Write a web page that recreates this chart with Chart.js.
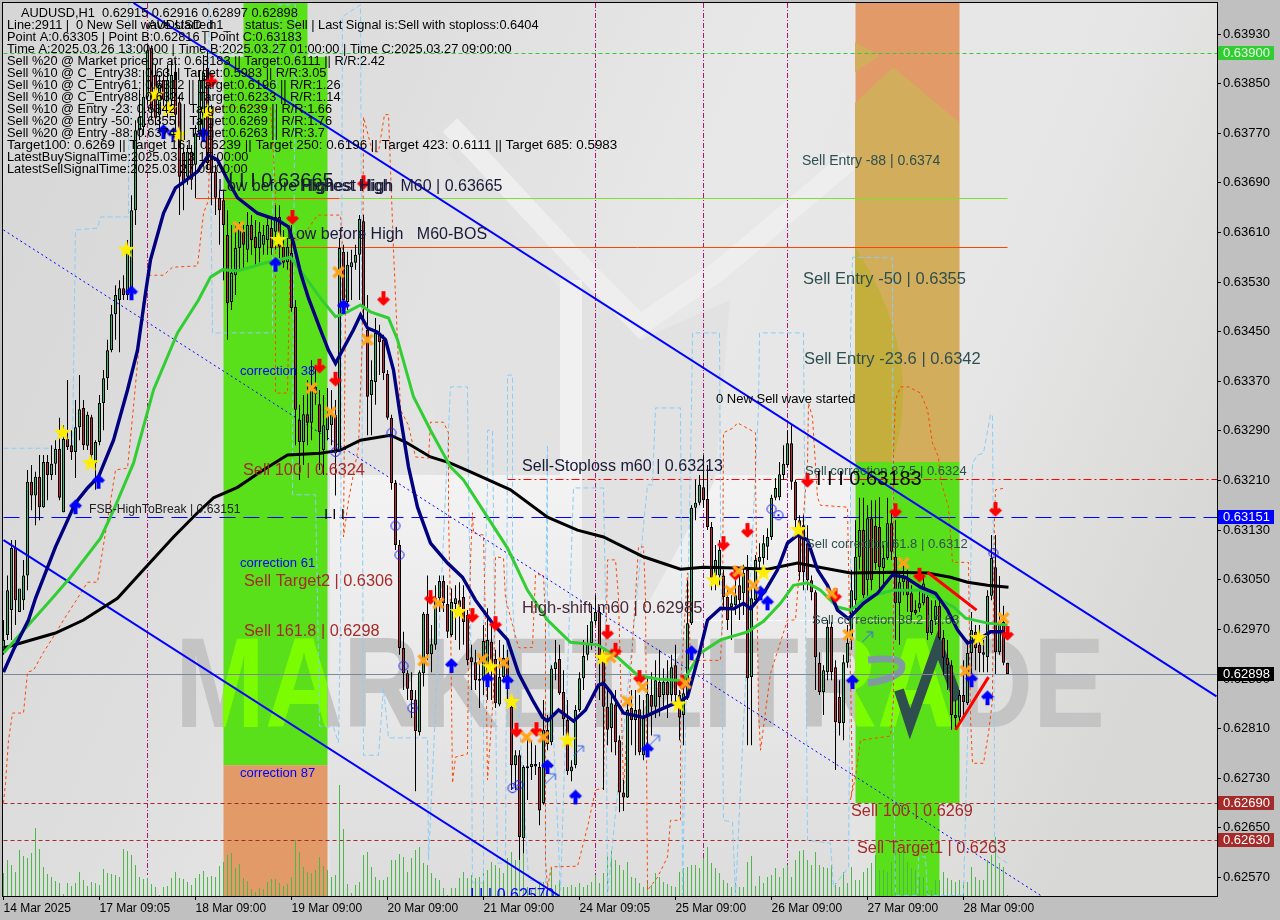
<!DOCTYPE html>
<html>
<head>
<meta charset="utf-8">
<title>AUDUSD,H1</title>
<script src="https://cdn.jsdelivr.net/npm/chart.js@4"></script>
<style>
  html, body { margin: 0; padding: 0; background: #c0c0c0; }
  canvas { display: block; }
</style>
</head>
<body>
<canvas id="priceChart" width="1280" height="920"></canvas>
<script>
// all prices below are in 1/100000 of a point, one entry per H1 bar
const opens = [
62937,62961,63001,63101,62998,63017,63057,63208,63186,63216,
63167,63240,63219,63237,63261,63159,63277,63267,63256,63296,
63327,63266,63312,63238,63272,63335,63375,63420,63478,63501,
63520,63509,63512,63646,63775,63780,63829,63908,63864,63800,
63856,63808,63824,63869,63820,63738,63700,63740,63719,63770,
63775,63875,63803,63708,63666,63662,63606,63498,63541,63585,
63611,63582,63622,63603,63585,63590,63598,63617,63611,63635,
63587,63562,63577,63490,63308,63272,63317,63303,63361,63333,
63259,63291,63299,63316,63259,63579,63498,63554,63561,63574,
63628,63453,63348,63369,63448,63437,63382,63311,63206,63106,
62940,62899,62872,62857,62804,62899,62995,62930,62945,63020,
63048,63011,62961,63011,63017,63022,62993,62925,62917,62887,
62888,62891,62950,62922,62849,62893,62924,62845,62751,62767,
62633,62746,62748,62753,62748,62690,62808,62788,62906,62922,
62869,62824,62741,62751,62840,62891,62929,62948,62983,62998,
62925,62845,62811,62849,62791,62707,62699,62843,62824,62841,
62767,62832,62864,62845,62885,62864,62885,62864,62912,62864,
62832,62861,62980,63166,63174,63199,63180,63135,63057,63057,
63057,63022,63006,63009,63041,63028,63066,62893,63017,63079,
63085,63103,63119,63182,63183,63219,63235,63270,63208,63146,
63138,63109,63049,63030,62916,62869,62901,62974,62909,62861,
62819,62916,62953,63017,63087,63130,63049,63149,63137,63135,
63069,63085,63141,63087,63012,63046,63049,63028,63001,63004,
63012,63022,62964,62985,63008,62956,62924,62912,62832,62828,
62864,62851,62932,62966,62945,62933,62925,63024,63070,62933,
62982,62916];
const highs = [
62985,63057,63114,63114,62977,63082,63227,63235,63224,63251,
63251,63251,63267,63275,63311,63299,63372,63291,63340,63380,
63340,63321,63316,63275,63348,63388,63437,63493,63525,63533,
63541,63598,63670,63791,63840,63872,63912,63912,63880,63864,
63872,63880,63888,63888,63832,63746,63751,63751,63783,63872,
63896,63904,63816,63719,63679,63679,63646,63622,63622,63627,
63622,63643,63638,63630,63627,63622,63633,63630,63654,63654,
63614,63601,63622,63501,63332,63348,63372,63404,63396,63356,
63348,63359,63356,63340,63601,63590,63579,63582,63590,63638,
63638,63509,63404,63472,63461,63445,63388,63316,63211,63114,
62966,62904,62901,62872,62904,62998,63057,62977,63041,63057,
63057,63041,63036,63041,63046,63041,63001,62945,62937,62929,
62977,63004,62977,62937,62953,62945,62937,62856,62775,62775,
62751,62799,62791,62783,62756,62856,62832,62912,62953,62945,
62904,62856,62759,62848,62901,62953,62977,63009,63025,63006,
62937,62872,62867,62872,62799,62727,62856,62872,62872,62864,
62856,62891,62901,62920,62937,62907,62920,62929,62945,62872,
62888,63049,63170,63211,63219,63251,63235,63143,63106,63114,
63066,63033,63025,63049,63057,63074,63090,63036,63090,63109,
63122,63133,63187,63214,63240,63267,63291,63299,63211,63154,
63154,63138,63057,63033,62933,62912,62985,62982,62920,62888,
62929,62977,63066,63146,63182,63182,63170,63178,63178,63183,
63106,63182,63162,63146,63062,63082,63066,63041,63017,63033,
63057,63033,63017,63017,63017,62969,62953,62920,62856,62872,
62920,62953,62998,62977,62977,62953,63033,63122,63122,63056,
63008,62916];
const lows = [
62929,62953,62953,62977,62977,63001,63033,63162,63138,63146,
63166,63178,63211,63219,63178,63159,63259,63243,63214,63275,
63259,63259,63235,63195,63267,63291,63356,63417,63437,63417,
63501,63501,63506,63622,63759,63767,63816,63791,63783,63775,
63808,63795,63800,63775,63638,63646,63687,63679,63703,63759,
63759,63711,63654,63638,63590,63533,63437,63485,63509,63550,
63553,63562,63574,63558,63562,63574,63574,63574,63582,63569,
63553,63550,63482,63267,63211,63235,63267,63275,63332,63227,
63219,63275,63267,63186,63256,63493,63485,63501,63550,63501,
63469,63283,63283,63332,63380,63372,63308,63195,63098,62929,
62872,62856,62827,62709,62799,62878,62920,62901,62937,62998,
62998,62956,62958,62953,62937,62945,62912,62872,62872,62843,
62864,62856,62856,62843,62846,62888,62856,62711,62711,62598,
62609,62695,62727,62735,62654,62687,62775,62783,62888,62864,
62799,62735,62725,62746,62837,62872,62920,62937,62977,62856,
62711,62783,62772,62767,62675,62677,62698,62783,62767,62767,
62759,62775,62799,62827,62830,62840,62827,62848,62853,62791,
62783,62856,62977,63146,63170,63166,63130,63033,63033,63041,
63001,62969,62953,62993,62985,62993,62783,62783,63009,63066,
63074,63082,63114,63178,63178,63211,63232,63195,63133,63049,
63033,63033,63017,62872,62864,62832,62888,62888,62743,62799,
62791,62908,62937,63001,63066,63020,63017,63033,63066,63033,
63041,63082,63082,62953,62945,63025,62998,62985,62993,62998,
63009,62953,62961,62977,62953,62896,62872,62808,62809,62816,
62827,62848,62888,62904,62901,62901,62901,63017,62898,62929,
62912,62898];
const closes = [
62953,63033,63101,63017,63036,63057,63208,63186,63216,63167,
63240,63219,63237,63261,63182,63277,63264,63256,63296,63325,
63267,63316,63251,63272,63335,63375,63420,63478,63509,63520,
63509,63577,63646,63775,63796,63829,63904,63808,63795,63848,
63824,63856,63864,63800,63700,63690,63740,63695,63770,63856,
63867,63722,63706,63666,63646,63622,63496,63545,63585,63619,
63590,63622,63598,63585,63611,63606,63622,63585,63635,63587,
63561,63587,63488,63324,63272,63317,63303,63361,63349,63288,
63299,63316,63316,63254,63585,63501,63558,63562,63574,63632,
63488,63345,63372,63448,63433,63383,63311,63206,63106,62940,
62899,62874,62856,62806,62901,62995,62930,62946,63020,63048,
63012,62966,63014,63020,63006,62982,62920,62917,62888,62890,
62951,62953,62904,62851,62893,62924,62888,62751,62767,62635,
62748,62749,62753,62749,62678,62808,62785,62907,62917,62867,
62825,62741,62749,62840,62891,62927,62948,62983,62998,62920,
62845,62808,62851,62788,62707,62699,62840,62824,62840,62772,
62828,62866,62845,62888,62861,62885,62864,62909,62864,62828,
62867,62980,63166,63174,63203,63178,63135,63053,63082,63098,
63022,62985,63012,63025,63017,63061,62891,63020,63082,63087,
63109,63119,63182,63198,63220,63237,63270,63208,63146,63062,
63062,63049,63030,62925,62869,62904,62974,62901,62820,62819,
62917,62948,63033,63087,63130,63025,63149,63049,63077,63070,
63085,63141,63095,63012,63046,63053,63025,62998,62996,63012,
63044,62964,62985,63008,62956,62924,62912,62832,62827,62864,
62853,62932,62969,62940,62932,62929,63024,63085,62933,62982,
62916,62898];
const volumes = [
23,36,31,24,46,40,38,43,68,47,29,22,19,15,13,2,13,10,13,24,
16,10,14,13,11,27,23,22,21,19,47,45,41,31,19,17,18,12,9,1,
9,10,18,24,18,17,14,11,18,22,25,19,20,19,30,34,41,43,28,32,
18,15,7,4,8,7,14,17,17,13,10,12,19,56,44,29,24,23,26,39,
30,26,19,21,111,67,12,3,11,14,41,44,29,19,16,16,19,36,36,42,
39,24,38,46,49,33,31,23,18,16,8,1,8,8,18,24,18,21,18,19,
23,26,34,31,28,23,38,44,36,43,43,9,6,9,13,14,13,28,11,16,
9,9,11,9,13,9,11,14,21,13,23,40,45,36,31,26,34,19,18,13,
9,16,11,23,19,14,12,10,9,24,28,29,31,31,28,38,49,33,28,23,
16,13,9,13,9,9,34,40,10,20,13,19,21,28,19,28,31,19,36,45,
46,36,31,44,31,29,28,31,13,9,24,13,29,16,16,24,28,33,41,26,
26,24,34,46,43,46,34,28,26,19,19,9,6,16,16,24,18,16,14,16,
14,14,29,19,16,16,36,41,59,33,29,1];

const xTickBars = [0,24,48,72,96,120,144,168,192,216,240];
const xTickLabels = ['14 Mar 2025','17 Mar 09:05','18 Mar 09:00','19 Mar 09:00','20 Mar 09:00','21 Mar 09:00','24 Mar 09:05','25 Mar 09:00','26 Mar 09:00','27 Mar 09:00','28 Mar 09:00'];
const yTicks = [0.6393,0.6385,0.6377,0.6369,0.6361,0.6353,0.6345,0.6337,0.6329,0.6321,0.6313,0.6305,0.6297,0.6289,0.6281,0.6273,0.6265,0.6257];

// indicators as [bar, price]
const fastMa = [[0,62901],[2.5,62937],[6.25,62985],[8,63020],[13,63103],[18,63174],[21,63198],[23.75,63216],[27.5,63275],[31,63356],[33.5,63420],[35.5,63512],[36.75,63566],[40,63641],[43,63682],[44.75,63690],[48.5,63708],[51.25,63735],[53.5,63727],[56,63695],[58.5,63666],[63.5,63641],[68.5,63630],[71.25,63619],[72.5,63593],[74.25,63545],[76.25,63504],[79.25,63453],[81.25,63420],[83,63399],[84.75,63420],[87.5,63453],[89.25,63477],[91,63456],[93.5,63449],[95.5,63437],[97.5,63388],[99.25,63312],[101.25,63232],[103.5,63167],[106.75,63109],[111,63077],[114.75,63054],[118,63017],[122.25,62980],[126,62953],[128.75,62899],[132.25,62856],[134.75,62828],[136,62822],[138.75,62840],[142.5,62822],[145.5,62840],[148.75,62880],[150,62883],[151.75,62869],[155,62835],[160,62828],[165,62843],[168.75,62853],[171,62861],[173.5,62920],[176,62985],[179.25,63004],[182.5,63003],[185,63012],[186.75,63003],[190.5,63033],[193.5,63066],[196,63109],[198.5,63122],[201,63114],[203.5,63066],[206,63041],[208.5,63001],[211.25,62987],[215,63012],[218.5,63028],[222.25,63058],[225.5,63054],[229.25,63038],[233,63028],[236,63001],[238.5,62969],[241,62948],[243.75,62953],[246.75,62966],[249.75,62966],[251.25,62956]];
const midMa = [[0,62932],[11.75,63017],[16.75,63054],[24.25,63117],[27.5,63162],[32.5,63238],[37.5,63356],[43.5,63448],[48.75,63501],[51.75,63538],[54.75,63550],[58.5,63548],[66,63562],[71.75,63570],[76,63533],[79.25,63504],[83,63474],[86,63482],[89.25,63493],[91.75,63482],[96.25,63472],[98.5,63437],[102.5,63345],[106.75,63291],[111.75,63232],[115,63211],[121,63151],[126,63101],[131,63033],[136,62985],[141.75,62949],[148.5,62945],[153.5,62925],[158.5,62896],[163.5,62890],[170,62887],[174.25,62932],[179.25,62953],[186,62966],[190,62983],[194.25,63012],[197.5,63041],[201,63045],[204.25,63033],[208.5,63006],[211.75,63001],[216,63022],[222.25,63033],[229.25,63033],[233.5,63020],[237.5,63006],[240.5,62988],[246,62980],[251,62977]];
const slowMa = [[0,62940],[13,62964],[20,62985],[28.5,63020],[35,63066],[42.5,63119],[48.5,63158],[52.5,63182],[58.5,63199],[64.25,63224],[71,63251],[79.25,63254],[84.25,63259],[89.25,63275],[96.75,63283],[100.5,63272],[106.75,63248],[111.75,63238],[116.75,63224],[126.75,63195],[136,63151],[143.5,63130],[150,63119],[160,63087],[169.25,63067],[175,63070],[183.5,63069],[191,63067],[198.5,63077],[205,63069],[211.75,63061],[222.5,63062],[231,63061],[236.75,63054],[241,63046],[246,63041],[251.25,63038]];
const lowerBand = [[0,62690],[0.5,62722],[1.25,62791],[2.25,62835],[5,62835],[6,62901],[7.5,62904],[10,62933],[12.5,62958],[15,62985],[18.5,63020],[21,63046],[23.5,63046],[26,63146],[28,63227],[31,63230],[32.25,63312],[33.5,63399],[35,63501],[36.25,63541],[40,63541],[42.25,63554],[48.5,63556],[49.25,63598],[50,63641],[51.25,63662],[51.75,63808],[56.25,63812],[66.75,63812],[68,63679],[68,63351],[71,63351],[71.75,63598],[74.25,63598],[78.5,63638],[84.25,63638],[85.5,63501],[85,63119],[86.25,63178],[88.75,63264],[89.75,63448],[90,63796],[92.25,63740],[93.75,63740],[95.25,63800],[96.25,63800],[97.5,63582],[99.25,63324],[101.25,63299],[103,63248],[106.25,63246],[106.75,63304],[110,63304],[111.25,63287],[111.25,63158],[111.75,63001],[112.25,62722],[113,62764],[116,62769],[116.25,62920],[116.75,63082],[117.25,63158],[117.5,63125],[120,63122],[120.5,62974],[121,62727],[122.5,62867],[123,63087],[125,63085],[125.5,63020],[128.75,62941],[129.25,62940],[132.25,62941],[133,63058],[135,63058],[135.5,62985],[135.5,62598],[136,62554],[137,62587],[143.5,62588],[146,62651],[148,62711],[150,62714],[151,63082],[153,63082],[153.75,63022],[155,62711],[158.75,63103],[160,63103],[160.5,63022],[161,62549],[163.5,62570],[166,62603],[166.75,62662],[169.25,62662],[169.25,62877],[170,62958],[171,63061],[171.25,63020],[171.75,62920],[174.75,62920],[179.25,62920],[179.75,62985],[180,63287],[182.5,63295],[183.5,63303],[188,63287],[188,63222],[188.75,62840],[189.25,62775],[191.75,62899],[196,62985],[198,62985],[201,63238],[201.25,63335],[202.25,63312],[203.5,63183],[204.25,63170],[211,63167],[212.25,62716],[211.75,62695],[213,62732],[214.25,62791],[221.75,62798],[222.5,62856],[222.5,63259],[223,63340],[224.25,63361],[226.25,63361],[229.25,63351],[231,63324],[232.25,63270],[233.75,63248],[234.25,63211],[236.25,63167],[237.25,63078],[241.25,63078],[241.75,62828],[242.25,62754],[245,62754],[246.25,62803],[247.25,62856],[247.25,62883],[247.75,63151],[248,63195],[250.5,63198]];
const upperBand = [[0,63262],[17.25,63262],[17.75,63501],[18,63614],[23.5,63617],[24.25,63635],[31.25,63635],[31.25,63980],[51.25,63980],[52.25,63448],[67.25,63448],[67.25,63646],[68.75,63977],[73,63977],[72.25,63287],[72.25,63187],[78,63187],[78.5,63017],[79,62814],[82.5,62812],[83.75,62787],[84.25,62985],[84.75,63958],[89.25,63977],[90,62767],[93.75,62767],[95,62875],[96.25,62795],[106,62795],[106.25,62598],[111.75,63361],[116,63361],[116.25,63199],[116.75,63017],[117.25,62561],[120,62561],[120,62985],[121,63199],[121,63291],[122.25,63291],[123.5,62593],[125.5,62593],[126,63275],[126,63380],[127.25,63380],[127.25,63017],[131.25,62566],[135.5,62561],[135.5,62985],[136,63267],[136,63017],[139.25,62549],[142.5,63198],[150,63198],[150.5,63017],[151,62541],[161,63203],[162.25,63203],[163,63327],[169.25,63327],[169.5,63070],[169.75,62541],[172,63328],[172.25,63448],[179,63448],[179.25,63158],[180,62662],[182.25,62659],[183,62541],[188.75,63328],[189,63448],[200,63448],[200.5,63017],[201,62630],[206.75,62625],[207.5,62554],[211.25,62587],[211.75,62985],[211.75,63432],[212.25,63570],[222.25,63569],[222.5,62775],[223,62541],[228.5,62541],[228.75,62603],[230.5,62603],[231,62541],[240,62541],[241.25,62856],[242.25,63238],[243.5,63251],[245,63254],[246.75,63316],[247.25,63316],[247.75,62780],[247.75,62635],[248.5,62603],[251,62593]];

const channelTop = [[32.5,63980],[303.25,62862]];
const channelBottom = [[0,63114],[139,62540]];
const channelMid = [[0,63614],[259.25,62541]];
const waveDown = [[231,63062],[243.25,63001]];
const waveUp = [[238,62808],[246.25,62893]];

// signal marks as [bar, price]
const starMarks = [[30.75,63582],[38,63832],[41.25,63809],[43.75,63767],[51,63804],[68.75,63598],[14.75,63287],[21.75,63238],[113.75,62998],[121.75,62909],[127,62853],[141,62791],[149.75,62924],[168.75,62849],[177.75,63049],[190,63061],[198.75,63130],[243.75,62956]];
const crossMarks = [[58.75,63619],[83.75,63546],[77,63359],[81.75,63320],[91,63437],[105,62920],[108.75,63012],[119.75,62922],[125,62916],[130.75,62796],[135,62796],[151.75,62925],[156,62854],[159.75,62877],[170.5,62883],[181.75,63032],[183.75,63064],[187.5,63041],[207,63028],[211.25,62961],[225,63077],[240.5,62903],[250,62988]];
const sellArrows = [[52,63856],[72.25,63635],[90,63691],[79,63395],[83,63374],[95,63504],[106.75,63022],[117.25,62993],[123,62980],[128.25,62808],[133.25,62809],[151,62966],[153,62937],[159,62893],[169.75,62885],[180,63109],[186,63130],[183,63061],[201,63211],[208,63025],[223,63162],[229,63058],[248,63164],[251,62964]];
const buyArrows = [[32,63512],[40,63772],[50,63767],[42.5,63767],[68,63558],[18,63167],[23.75,63208],[85,63490],[112,62911],[121,62888],[126,62885],[136,62748],[143,62699],[161,62775],[172,62932],[189.25,63028],[191,63012],[212.25,62885],[242,62888],[246,62859]];
const circleMarks = [[100,62911],[102.25,62843],[83,63256],[97,63287],[98,63137],[99,63090],[127.25,62714],[128.75,62719],[192,63164],[193.75,63154],[247.5,63093]];
const hollowArrows = [[143.75,62774],[136.75,62729],[162.75,62791],[216,62958]];

// level lines: price, first bar, last bar, colour, dash
const levelLines = [
  [0.639, 0, 304, '#32cd32', [4,3]],
  [0.63151, 0, 304, '#0000ff', [16,8]],
  [0.62898, 0, 304, '#778899', []],
  [0.6269, 0, 304, '#a52a2a', [4,3]],
  [0.6263, 0, 304, '#a52a2a', [4,3]],
  [0.63213, 126, 304, '#ff0000', [8,3,2,3]],
  [0.63665, 48, 84, '#ff4500', []],
  [0.63665, 84, 251, '#7fe030', []],
  [0.63587, 66, 251, '#ff4500', []],
  [0.62985, 171, 239, '#ffffff', [6,2]]
];
const signalBars = [36, 148, 175, 196];

// zones: first bar, last bar, top price, bottom price, colour
const zoneRects = [
  [60, 76, 0.6398, 0.63893, '#5ae01a'],
  [55, 81, 0.63893, 0.62751, '#5ae01a'],
  [55, 81, 0.62751, 0.6254, '#e29a68'],
  [213, 239, 0.6398, 0.6324, '#e29a68'],
  [213, 239, 0.6324, 0.6269, '#5ae01a'],
  [218, 234, 0.6269, 0.6254, '#5ae01a']
];

const panelLines = [
  'Line:2911 |',
  'Point A:0.63305 | Point B:0.62816 | Point C:0.63183',
  'Time A:2025.03.26 13:00:00 | Time B:2025.03.27 01:00:00 | Time C:2025.03.27 09:00:00',
  'Sell %20 @ Market price or at: 0.63183 || Target:0.6111 || R/R:2.42',
  'Sell %10 @ C_Entry38: 0.63 || Target:0.5983 || R/R:3.05',
  'Sell %10 @ C_Entry61: 0.6312 || Target:0.6196 || R/R:1.26',
  'Sell %10 @ C_Entry88: 0.6324 || Target:0.6233 || R/R:1.14',
  'Sell %10 @ Entry -23: 0.6342 || Target:0.6239 || R/R:1.66',
  'Sell %20 @ Entry -50: 0.6355 || Target:0.6269 || R/R:1.76',
  'Sell %20 @ Entry -88: 0.6374 || Target:0.6263 || R/R:3.7',
  'Target100: 0.6269 || Target 161: 0.6239 || Target 250: 0.6196 || Target 423: 0.6111 || Target 685: 0.5983',
  'LatestBuySignalTime:2025.03.13 15:00:00',
  'LatestSellSignalTime:2025.03.27 09:00:00'
];
const longPanelLine = 10;

// chart notes: text, left, middle, font px, colour
const notes = [
  ['0 New Sell wave started', 76, 25, 12.8, '#000'],
  ['AUDUSD_h1_', 148, 25, 12.8, '#000'],
  ['status: Sell | Last Signal is:Sell with stoploss:0.6404', 245, 25, 12.8, '#000'],
  ['Sell Entry -88 | 0.6374', 802, 161, 14, '#2f4f4f'],
  ['Sell Entry -50 | 0.6355', 803, 279, 16.5, '#2f4f4f'],
  ['Sell Entry -23.6 | 0.6342', 804, 359, 16.5, '#2f4f4f'],
  ['0 New Sell wave started', 716, 399, 13, '#000'],
  ['Sell correction 87.5 | 0.6324', 805, 471, 13, '#2f4f4f'],
  ['I I I 0.63183', 816, 479, 20, '#000'],
  ['Sell-Stoploss m60 | 0.63213', 522, 467, 16.1, '#191938'],
  ['FSB-HighToBreak | 0.63151', 89, 510, 12.2, '#222'],
  ['Sell 100 | 0.6324', 243, 471, 16.3, '#a52a2a'],
  ['correction 38', 240, 371, 13, '#0000ff'],
  ['correction 61', 240, 563, 13, '#0000ff'],
  ['correction 87', 240, 773, 13, '#0000ff'],
  ['Sell Target2 | 0.6306', 244, 582, 16.3, '#a52a2a'],
  ['Sell 161.8 | 0.6298', 244, 632, 16.3, '#a52a2a'],
  ['I I I 0.63665', 228, 181, 20, '#191938'],
  ['Low before Highest High', 218, 187, 16, '#191938'],
  ['Highest High  M60 | 0.63665', 300, 187, 16, '#191938'],
  ['Low before High   M60-BOS', 287, 235, 16, '#191938'],
  ['I I I', 324, 515, 15, '#000'],
  ['High-shift m60 | 0.62985', 522, 608, 16.6, '#4a2a3a'],
  ['Sell correction 61.8 | 0.6312', 806, 544, 13, '#2f4f4f'],
  ['Sell correction 38.2 | 0.63', 812, 620, 13, '#2f4f4f'],
  ['Sell 100 | 0.6269', 851, 812, 16.3, '#a52a2a'],
  ['Sell Target1 | 0.6263', 857, 849, 16.3, '#a52a2a'],
  ['I I I 0.62570', 470, 896, 16, '#0000ff']
];
// right hand price tags: price, background
const priceTags = [[0.639, '#32cd32'], [0.63151, '#0000ff'], [0.62898, '#000000'], [0.6269, '#a52a2a'], [0.6263, '#a52a2a']];

function toPrice(v) { return v / 100000; }
function toPoints(list) { return list.map(p => ({ x: p[0], y: toPrice(p[1]) })); }

function makeMark(w, h, draw) {
  const c = document.createElement('canvas');
  c.width = w; c.height = h;
  draw(c.getContext('2d'));
  return c;
}
const starImg = makeMark(20, 20, g => {
  g.beginPath();
  for (let k = 0; k < 10; k++) {
    const r = k % 2 ? 3.8 : 9.5, a = -Math.PI / 2 + k * Math.PI / 5;
    g.lineTo(10 + r * Math.cos(a), 10 + r * Math.sin(a));
  }
  g.closePath();
  g.fillStyle = '#ffee00';
  g.fill();
});
const crossImg = makeMark(14, 14, g => {
  g.strokeStyle = '#ffa31a'; g.lineWidth = 3.4;
  g.beginPath(); g.moveTo(2, 2); g.lineTo(12, 12); g.moveTo(12, 2); g.lineTo(2, 12); g.stroke();
});
function arrow(g, color, down) {
  g.strokeStyle = color; g.lineWidth = 4;
  g.beginPath();
  if (down) { g.moveTo(7, 1); g.lineTo(7, 13); g.moveTo(2, 8); g.lineTo(7, 13); g.lineTo(12, 8); }
  else { g.moveTo(7, 15); g.lineTo(7, 3); g.moveTo(2, 8); g.lineTo(7, 3); g.lineTo(12, 8); }
  g.stroke();
}
const sellImg = makeMark(14, 16, g => arrow(g, '#ff0000', true));
const buyImg = makeMark(14, 16, g => arrow(g, '#0000ff', false));
const circleImg = makeMark(12, 12, g => {
  g.strokeStyle = '#2222ee'; g.lineWidth = 1;
  g.beginPath(); g.arc(6, 6, 4.5, 0, Math.PI * 2); g.stroke();
  g.fillStyle = '#2222ee'; g.fillRect(5, 5, 2, 2);
});
const hollowImg = makeMark(14, 14, g => {
  g.strokeStyle = '#3060ee'; g.lineWidth = 1;
  g.beginPath(); g.moveTo(6, 2); g.lineTo(12, 2); g.lineTo(12, 8); g.moveTo(12, 2); g.lineTo(2, 12); g.stroke();
});

function markSet(list, img, order) {
  return { type: 'scatter', data: toPoints(list), pointStyle: img, pointRadius: 8, order: order, yAxisID: 'y', xAxisID: 'x' };
}
function lineSet(list, color, width, dash, order) {
  return { type: 'line', data: toPoints(list), borderColor: color, borderWidth: width, borderDash: dash, pointRadius: 0, tension: 0, fill: false, order: order, yAxisID: 'y', xAxisID: 'x' };
}

const wicks = lows.map((l, i) => ({ x: i, y: [toPrice(l), toPrice(highs[i])] }));
const bodies = opens.map((o, i) => ({ x: i, y: [toPrice(o), toPrice(closes[i])] }));
const bodyColors = opens.map((o, i) => closes[i] >= o ? '#32b96e' : '#c8283c');

const sceneries = {
  id: 'sceneries',
  beforeDatasetsDraw(chart) {
    const g = chart.ctx, a = chart.chartArea, x = chart.scales.x, y = chart.scales.y;
    g.save();
    g.beginPath(); g.rect(a.left, a.top, a.right - a.left, a.bottom - a.top); g.clip();
    const bg = g.createLinearGradient(0, 0, 1217, 500);
    bg.addColorStop(0, '#d6d6d6'); bg.addColorStop(0.3, '#dedede'); bg.addColorStop(0.55, '#e8e8e8'); bg.addColorStop(0.8, '#e6e6e6'); bg.addColorStop(1, '#d8d8d6');
    g.fillStyle = bg; g.fillRect(a.left, a.top, a.right - a.left, a.bottom - a.top);

    // the faint logo behind the candles
    const low = g.createLinearGradient(0, 475, 0, 896);
    low.addColorStop(0, '#f3f3f3'); low.addColorStop(1, '#dcdcdc');
    g.fillStyle = low; g.fillRect(330, 475, 520, 421);
    g.fillStyle = '#e2e2e2';
    g.beginPath(); g.moveTo(430, 130); g.lineTo(560, 290); g.lineTo(560, 475); g.lineTo(435, 475); g.closePath(); g.fill();
    g.beginPath(); g.moveTo(582, 600); g.lineTo(650, 600); g.lineTo(715, 480); g.lineTo(730, 300); g.lineTo(640, 340); g.lineTo(582, 280); g.closePath(); g.fill();
    g.strokeStyle = '#eeeeee'; g.lineWidth = 20;
    g.beginPath(); g.moveTo(450, 125); g.lineTo(571, 255); g.lineTo(640, 325); g.lineTo(720, 270); g.lineTo(850, 160); g.stroke();
    g.fillStyle = '#f0f0f0'; g.fillRect(560, 280, 22, 195);

    const drawMarkText = color => {
      g.font = 'bold 128px "Liberation Sans"'; g.textBaseline = 'alphabetic'; g.textAlign = 'left';
      g.fillStyle = color;
      g.fillText('MARKETZITRADE', 175, 727, 930);
    };
    drawMarkText('#c4c4c4');

    zoneRects.forEach(z => {
      g.fillStyle = z[4];
      const l = x.getPixelForValue(z[0]), r = x.getPixelForValue(z[1]);
      const t = y.getPixelForValue(z[2]), b = y.getPixelForValue(z[3]);
      g.fillRect(l, t, r - l, b - t);
    });
    // sand coloured part of the upper zone
    g.fillStyle = '#d2ad5c';
    g.beginPath(); g.moveTo(855, 103); g.lineTo(893, 67); g.lineTo(959, 122); g.lineTo(959, 462); g.lineTo(855, 462); g.closePath(); g.fill();
    g.beginPath(); g.moveTo(855, 42); g.lineTo(880, 56); g.lineTo(855, 72); g.closePath(); g.fill();
    g.fillStyle = '#c4ae3c';
    g.beginPath(); g.moveTo(855, 247); g.quadraticCurveTo(915, 340, 900, 430); g.lineTo(893, 462); g.lineTo(855, 462); g.closePath(); g.fill();

    // the watermark shows through the green zones in lime
    g.save();
    g.beginPath();
    g.rect(223, 57, 104, 708);
    g.rect(855, 462, 104, 341);
    g.clip();
    drawMarkText('#7cfc00');
    g.strokeStyle = '#2f4f4f'; g.lineWidth = 10;
    g.beginPath(); g.moveTo(899, 690); g.lineTo(910, 724); g.lineTo(938, 645); g.lineTo(958, 700); g.stroke();
    g.strokeStyle = '#7f9aa0'; g.lineWidth = 7;
    g.beginPath(); g.moveTo(868, 660); g.quadraticCurveTo(910, 655, 900, 672); g.quadraticCurveTo(890, 680, 868, 683); g.stroke();
    g.restore();

    signalBars.forEach(b => {
      const px = x.getPixelForValue(b);
      g.strokeStyle = '#a6197a'; g.lineWidth = 1; g.setLineDash([5, 2, 1, 2]);
      g.beginPath(); g.moveTo(px, a.top); g.lineTo(px, 875); g.stroke();
    });
    levelLines.forEach(l => {
      const py = Math.round(y.getPixelForValue(l[0])) + 0.5;
      g.strokeStyle = l[3]; g.lineWidth = 1; g.setLineDash(l[4]);
      g.beginPath(); g.moveTo(x.getPixelForValue(l[1]), py); g.lineTo(x.getPixelForValue(l[2]), py); g.stroke();
    });
    g.setLineDash([]);
    g.strokeStyle = '#000'; g.beginPath(); g.moveTo(195.5, 173); g.lineTo(195.5, 198); g.stroke();
    g.restore();
  },
  afterDatasetsDraw(chart) {
    const g = chart.ctx, a = chart.chartArea;
    g.save();
    g.beginPath(); g.rect(a.left, a.top, a.right - a.left, a.bottom - a.top); g.clip();
    g.textAlign = 'left'; g.textBaseline = 'middle';
    notes.forEach(n => {
      g.font = n[3] + 'px "Liberation Sans"';
      g.fillStyle = n[4];
      g.fillText(n[0], n[1], n[2]);
    });
    g.fillStyle = '#000';
    g.font = '12.8px "Liberation Sans"';
    g.fillText('AUDUSD,H1  0.62915 0.62916 0.62897 0.62898', 21, 13);
    panelLines.forEach((t, i) => {
      g.font = (i === longPanelLine ? '13.4px' : '12.8px') + ' "Liberation Sans"';
      g.fillText(t, 7, 25 + i * 12);
    });
    g.restore();
  },
  afterDraw(chart) {
    const g = chart.ctx, y = chart.scales.y;
    g.save();
    g.strokeStyle = '#000'; g.lineWidth = 1;
    g.strokeRect(2.5, 2.5, 1215, 894);
    g.font = '13px "Liberation Sans"'; g.textBaseline = 'middle'; g.textAlign = 'left';
    priceTags.forEach(t => {
      const py = Math.round(y.getPixelForValue(t[0]));
      g.fillStyle = t[1]; g.fillRect(1218, py - 7, 56, 14);
      g.fillStyle = t[1] === '#32cd32' ? '#e8ffe8' : '#ffffff';
      g.fillText(t[0].toFixed(5), 1223, py + 0.5);
    });
    g.restore();
  }
};

const ctx = document.getElementById('priceChart').getContext('2d');
new Chart(ctx, {
  type: 'bar',
  plugins: [sceneries],
  data: {
    datasets: [
      { label: 'wave down', ...lineSet(waveDown, '#ff0000', 3, [], 4) },
      { label: 'wave up', ...lineSet(waveUp, '#ff0000', 3, [], 4) },
      markSet(hollowArrows, hollowImg, 3),
      markSet(circleMarks, circleImg, 3),
      markSet(crossMarks, crossImg, 2),
      markSet(sellArrows, sellImg, 2),
      markSet(buyArrows, buyImg, 2),
      markSet(starMarks, starImg, 1),
      lineSet(fastMa, '#000080', 3.4, [], 5),
      lineSet(midMa, '#32cd32', 3, [], 6),
      lineSet(slowMa, '#000000', 3, [], 6),
      lineSet(channelTop, '#0000ff', 2, [], 7),
      lineSet(channelBottom, '#0000ff', 2, [], 7),
      {
        type: 'bar', data: bodies, order: 8, grouped: false, barThickness: 3, maxBarThickness: 3, minBarLength: 2,
        backgroundColor: bodyColors, borderColor: '#000', borderWidth: 1, borderSkipped: false, inflateAmount: 0,
        yAxisID: 'y', xAxisID: 'x'
      },
      {
        type: 'bar', data: wicks, order: 9, grouped: false, barThickness: 1, maxBarThickness: 1,
        backgroundColor: '#000', borderWidth: 0, inflateAmount: 0, yAxisID: 'y', xAxisID: 'x'
      },
      lineSet(channelMid, '#0000ff', 1, [2, 3], 10),
      lineSet(lowerBand, '#ff4500', 1, [3, 3], 11),
      lineSet(upperBand, '#87cefa', 1, [5, 3], 12),
      {
        type: 'bar', data: volumes.map((v, i) => ({ x: i, y: v })), order: 13, grouped: false, barThickness: 1, maxBarThickness: 1,
        backgroundColor: '#4cb84c', borderWidth: 0, inflateAmount: 0, yAxisID: 'y2', xAxisID: 'x'
      }
    ]
  },
  options: {
    responsive: false,
    animation: false,
    devicePixelRatio: 1,
    events: [],
    layout: { autoPadding: false, padding: { left: 3, top: 3, right: 0, bottom: 0 } },
    plugins: { legend: { display: false }, tooltip: { enabled: false } },
    scales: {
      x: {
        type: 'linear',
        offset: false,
        min: -0.125,
        max: 303.375,
        grid: { display: true, offset: false, drawOnChartArea: false, drawTicks: true, tickLength: 4, tickColor: '#000' },
        border: { display: false },
        afterBuildTicks: s => { s.ticks = xTickBars.map(v => ({ value: v })); },
        afterFit: s => { s.height = 24; s.paddingLeft = 0; s.paddingRight = 0; },
        ticks: {
          autoSkip: false, maxRotation: 0, minRotation: 0, align: 'start', padding: 1, color: '#000',
          font: { family: 'Liberation Sans', size: 12 },
          callback: v => xTickLabels[xTickBars.indexOf(v)]
        }
      },
      y: {
        position: 'right',
        min: 0.6254,
        max: 0.6398,
        grid: { display: true, drawOnChartArea: false, drawTicks: true, tickLength: 4, tickColor: '#000' },
        border: { display: false },
        afterBuildTicks: s => { s.ticks = yTicks.map(v => ({ value: v })); },
        afterFit: s => { s.width = 63; s.paddingTop = 0; s.paddingBottom = 0; },
        ticks: {
          autoSkip: false, padding: 2, color: '#000',
          font: { family: 'Liberation Sans', size: 13 },
          callback: v => v.toFixed(5)
        }
      },
      y2: { display: false, min: 0, max: 893 }
    }
  }
});
</script>
</body>
</html>
